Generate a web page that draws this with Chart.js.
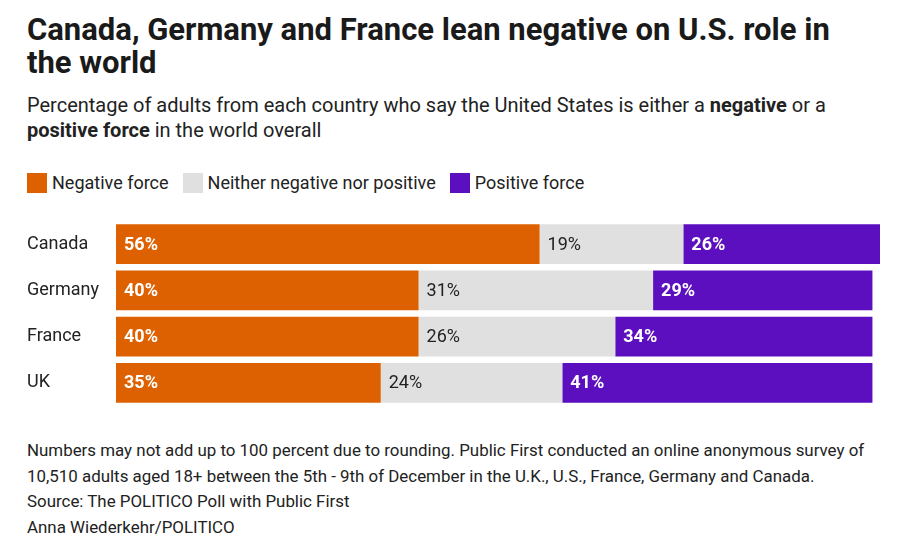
<!DOCTYPE html>
<html>
<head>
<meta charset="utf-8">
<script src="https://cdn.jsdelivr.net/npm/chart.js@4"></script>
<style>
  body { margin: 0; background: #fff; font-family: Roboto, "Noto Sans", sans-serif; color: #222; }
  #wrap { position: relative; width: 918px; height: 554px; overflow: hidden; }
  .title { position: absolute; left: 27px; top: 13px; font-size: 31px; font-weight: 700; line-height: 33px; color: #1a1a1a; }
  .sub { position: absolute; left: 27px; top: 93px; font-size: 20px; line-height: 25px; }
  .legend { position: absolute; left: 27px; top: 172px; font-size: 18px; display: flex; align-items: center; }
  .legend span.sw { display: inline-block; width: 20px; height: 20px; margin-right: 5px; }
  .legend span.item { display: inline-flex; align-items: center; margin-right: 14px; }
  .notes { position: absolute; left: 27px; top: 438px; font-size: 16.9px; line-height: 25.7px; }
  #chartBox { position: absolute; left: 0; top: 210px; width: 918px; height: 210px; }
</style>
</head>
<body>
<div id="wrap">
  <div class="title">Canada, Germany and France lean negative on U.S. role in<br>the world</div>
  <div class="sub">Percentage of adults from each country who say the United States is either a <b>negative</b> or a<br><b>positive force</b> in the world overall</div>
  <div class="legend" id="legend"></div>
  <div class="notes">Numbers may not add up to 100 percent due to rounding. Public First conducted an online anonymous survey of<br>10,510 adults aged 18+ between the 5th - 9th of December in the U.K., U.S., France, Germany and Canada.<br>Source: The POLITICO Poll with Public First<br>Anna Wiederkehr/POLITICO</div>
  <div id="chartBox">
    <canvas id="c"></canvas>
  </div>
</div>
<script>
// data
const countries = ['Canada', 'Germany', 'France', 'UK'];
const negative = [56, 40, 40, 35];
const neither = [19, 31, 26, 24];
const positive = [26, 29, 34, 41];

const seriesNames = ['Negative force', 'Neither negative nor positive', 'Positive force'];
const colors = ['#dd6100', '#e0e0e0', '#5c0fbf'];
const labelColors = ['#ffffff', '#222222', '#ffffff'];
const labelWeights = ['bold', 'normal', 'bold'];

// html legend
const legendEl = document.getElementById('legend');
seriesNames.forEach((name, i) => {
  const it = document.createElement('span');
  it.className = 'item';
  it.innerHTML = '<span class="sw" style="background:' + colors[i] + '"></span>' + name;
  legendEl.appendChild(it);
});

const barLabels = {
  id: 'barLabels',
  afterDatasetsDraw(chart) {
    const ctx = chart.ctx;
    ctx.save();
    ctx.textBaseline = 'middle';
    ctx.textAlign = 'left';
    chart.data.datasets.forEach((ds, di) => {
      const meta = chart.getDatasetMeta(di);
      ctx.fillStyle = labelColors[di];
      ctx.font = labelWeights[di] + ' 18px Roboto, sans-serif';
      meta.data.forEach((bar, i) => {
        const left = Math.min(bar.x, bar.base);
        ctx.fillText(ds.data[i] + '%', left + 8, bar.y + 1);
      });
    });
    ctx.restore();
  }
};

new Chart(document.getElementById('c'), {
  type: 'bar',
  data: {
    labels: countries,
    datasets: [
      { label: seriesNames[0], data: negative, backgroundColor: colors[0] },
      { label: seriesNames[1], data: neither, backgroundColor: colors[1] },
      { label: seriesNames[2], data: positive, backgroundColor: colors[2] }
    ]
  },
  options: {
    indexAxis: 'y',
    responsive: true,
    maintainAspectRatio: false,
    animation: false,
    layout: { padding: { left: 27, right: 38, top: 11, bottom: 14 } },
    datasets: { bar: { barPercentage: 1, categoryPercentage: 0.864, borderWidth: 0 } },
    plugins: { legend: { display: false }, tooltip: { enabled: false } },
    scales: {
      x: { stacked: true, min: 0, max: 101, display: false },
      y: {
        stacked: true,
        grid: { display: false },
        border: { display: false },
        ticks: { crossAlign: 'far', color: '#222', font: { size: 18, family: 'Roboto' }, padding: 0 },
        afterFit(axis) { axis.width = 89; }
      }
    }
  },
  plugins: [barLabels]
});
</script>
</body>
</html>
